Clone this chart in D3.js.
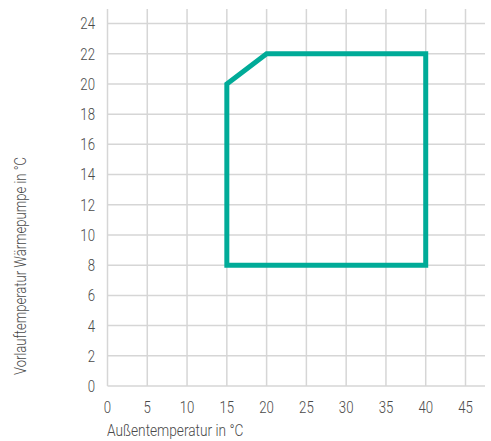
<!DOCTYPE html>
<html><head><meta charset="utf-8">
<script src="https://cdn.jsdelivr.net/npm/d3@7"></script>
<style>
body{margin:0;background:#fff;}
text{font-family:Roboto,"DejaVu Sans",sans-serif;font-weight:300;fill:#4a4a4a;}
</style></head>
<body><svg id="c" width="491" height="441"></svg>
<script>
const xTicks=[0,5,10,15,20,25,30,35,40,45];
const yTicks=[0,2,4,6,8,10,12,14,16,18,20,22,24];
const envX=[15,15,20,40,40];
const envY=[8,20,22,22,8];
const xTitle="Außentemperatur in °C";
const yTitle="Vorlauftemperatur Wärmepumpe in °C";

const svg=d3.select("#c");
const x=d3.scaleLinear().domain([0,45]).range([107.5,465.5]);
const y=d3.scaleLinear().domain([0,24]).range([386,23.5]);
const plotRight=485, plotTop=9;
const SX=0.8;
const g=svg.append("g");
g.selectAll(".h").data(yTicks).join("line")
 .attr("x1",x(0)).attr("x2",plotRight).attr("y1",d=>y(d)).attr("y2",d=>y(d))
 .attr("stroke","#d6d6d6").attr("stroke-width",1.5);
g.selectAll(".v").data(xTicks).join("line")
 .attr("x1",d=>x(d)).attr("x2",d=>x(d)).attr("y1",plotTop).attr("y2",y(0))
 .attr("stroke","#d6d6d6").attr("stroke-width",1.5);
g.selectAll(".yl").data(yTicks).join("text")
 .attr("transform",d=>`translate(95,${y(d)}) scale(${SX},1)`).attr("dy","0.36em").attr("text-anchor","end")
 .attr("font-size",16.5).text(d=>d);
g.selectAll(".xl").data(xTicks).join("text")
 .attr("transform",d=>`translate(${x(d)},407) scale(${SX},1)`).attr("dy","0.36em").attr("text-anchor","middle")
 .attr("font-size",16.5).text(d=>d);
svg.append("text").attr("transform","translate(107,436) scale(0.83,1)").attr("font-size",16.5).text(xTitle);
svg.append("text").attr("transform","translate(26,266) rotate(-90) scale(0.79,1)").attr("text-anchor","middle")
 .attr("font-size",16.5).text(yTitle);
const pts=envX.map((v,i)=>[x(v),y(envY[i])]);
svg.append("path").attr("d",d3.line()(pts)+"Z").attr("fill","none")
 .attr("stroke","#00ab98").attr("stroke-width",5).attr("stroke-linejoin","miter");
</script></body></html>
